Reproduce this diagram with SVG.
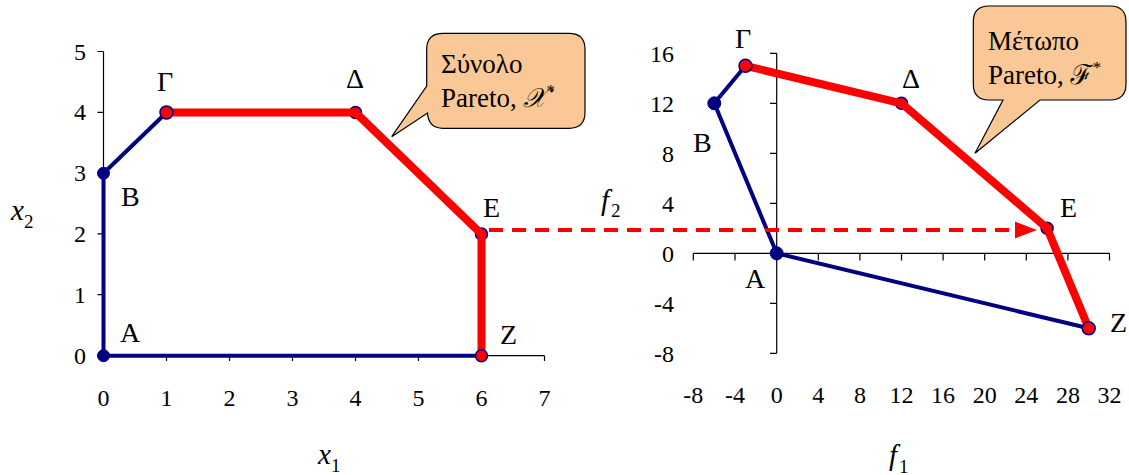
<svg xmlns="http://www.w3.org/2000/svg" width="1129" height="475" viewBox="0 0 1129 475" font-family="'Liberation Serif', Tinos, 'Times New Roman', 'DejaVu Serif', 'Noto Serif', serif">
<style>
  text { font-family: 'Liberation Serif', Tinos, 'Times New Roman', 'DejaVu Serif', 'Noto Serif', serif; fill: #000; }
  .tick { font-size: 24px; }
  .lbl { font-size: 28px; }
  .call { font-size: 27px; }
  .ax { font-size: 29px; font-style: italic; }
  .sub { font-size: 19px; font-style: normal; }
  .axis { stroke: #000; stroke-width: 1.2; fill: none; }
  .blue { stroke: #000080; stroke-width: 4; fill: none; stroke-linejoin: round; }
  .red { stroke: #FF0000; stroke-width: 8; fill: none; stroke-linejoin: round; }
  .dotb { fill: #000080; stroke: #000080; stroke-width: 1; }
  .dotr { fill: #FF0000; stroke: #000080; stroke-width: 1.5; }
  .bubble { fill: #FAC896; stroke: #000; stroke-width: 1.2; }
</style>

<!-- LEFT CHART: decision space -->
<g id="left-axes">
  <path class="axis" d="M103.5,51.5 V355.7 H544.5"/>
  <path class="axis" d="M97.5,51.5 H103.5 M97.5,112.3 H103.5 M97.5,173.1 H103.5 M97.5,233.9 H103.5 M97.5,294.7 H103.5 M97.5,355.7 H103.5"/>
  <path class="axis" d="M103.5,355.7 V361 M166.5,355.7 V361 M229.5,355.7 V361 M292.5,355.7 V361 M355.5,355.7 V361 M418.5,355.7 V361 M481.5,355.7 V361 M544.5,355.7 V361"/>
  <g class="tick" text-anchor="end">
    <text x="86" y="364">0</text>
    <text x="86" y="303">1</text>
    <text x="86" y="242">2</text>
    <text x="86" y="181">3</text>
    <text x="86" y="120">4</text>
    <text x="86" y="60">5</text>
  </g>
  <g class="tick" text-anchor="middle">
    <text x="103.5" y="406">0</text>
    <text x="166.5" y="406">1</text>
    <text x="229.5" y="406">2</text>
    <text x="292.5" y="406">3</text>
    <text x="355.5" y="406">4</text>
    <text x="418.5" y="406">5</text>
    <text x="481.5" y="406">6</text>
    <text x="544.5" y="406">7</text>
  </g>
  <text class="ax" x="318" y="464">x<tspan class="sub" dy="8">1</tspan></text>
  <text class="ax" x="11" y="220">x<tspan class="sub" dy="8">2</tspan></text>
</g>

<g id="left-series">
  <polyline class="blue" points="481.5,355.7 103.5,355.7 103.5,173.3 166.5,112.5"/>
  <circle class="dotr" cx="355.5" cy="112.5" r="6"/>
  <circle class="dotr" cx="481.5" cy="234.1" r="6"/>
  <polyline class="red" points="166.5,112.5 355.5,112.5 481.5,234.1 481.5,355.7"/>
</g>
<g id="left-A"><circle class="dotb" cx="103.5" cy="355.7" r="6"/><text class="lbl" x="120" y="342">A</text></g>
<g id="left-B"><circle class="dotb" cx="103.5" cy="173.3" r="6"/><text class="lbl" x="121" y="206">B</text></g>
<g id="left-G"><circle class="dotr" cx="166.5" cy="112.5" r="6.5"/><text class="lbl" x="157" y="91">Γ</text></g>
<g id="left-D"><text class="lbl" x="346" y="88">Δ</text></g>
<g id="left-E"><text class="lbl" x="483" y="216.5">E</text></g>
<g id="left-Z"><circle class="dotr" cx="481.5" cy="355.7" r="6"/><text class="lbl" x="500" y="344">Z</text></g>

<g id="callout-left">
  <path class="bubble" d="M443,33.3 H569 Q585,33.3 585,49.3 V112.3 Q585,128.3 569,128.3 H443 Q428.5,128.3 427.5,113 L391.7,136.7 L426.7,86 V49.3 Q426.7,33.3 443,33.3 Z"/>
  <text class="call" x="441" y="73">Σύνολο</text>
  <text class="call" x="441" y="107">Pareto, <tspan font-style="italic">𝒳</tspan><tspan font-size="17" dy="-11">*</tspan></text>
</g>

<!-- RIGHT CHART: objective space -->
<g id="right-axes">
  <path class="axis" d="M776.7,53.3 V353.3 M693.3,253.3 H1109.5"/>
  <path class="axis" d="M770,53.3 H776.7 M770,103.3 H776.7 M770,153.3 H776.7 M770,203.3 H776.7 M770,253.3 H776.7 M770,303.3 H776.7 M770,353.3 H776.7"/>
  <path class="axis" d="M693.3,253.3 V260.5 M735,253.3 V260.5 M776.7,253.3 V260.5 M818.3,253.3 V260.5 M859.9,253.3 V260.5 M901.5,253.3 V260.5 M943.1,253.3 V260.5 M984.7,253.3 V260.5 M1026.3,253.3 V260.5 M1067.9,253.3 V260.5 M1109.5,253.3 V260.5"/>
  <g class="tick" text-anchor="end">
    <text x="674" y="62">16</text>
    <text x="674" y="112">12</text>
    <text x="674" y="162">8</text>
    <text x="674" y="212">4</text>
    <text x="674" y="262">0</text>
    <text x="674" y="312">-4</text>
    <text x="674" y="362">-8</text>
  </g>
  <g class="tick" text-anchor="middle">
    <text x="693.3" y="403">-8</text>
    <text x="735" y="403">-4</text>
    <text x="776.7" y="403">0</text>
    <text x="818.3" y="403">4</text>
    <text x="859.9" y="403">8</text>
    <text x="901.5" y="403">12</text>
    <text x="943.1" y="403">16</text>
    <text x="984.7" y="403">20</text>
    <text x="1026.3" y="403">24</text>
    <text x="1067.9" y="403">28</text>
    <text x="1109.5" y="403">32</text>
  </g>
  <text class="ax" x="889" y="465">f<tspan class="sub" dx="2" dy="8">1</tspan></text>
  <text class="ax" x="601" y="210">f<tspan class="sub" dx="2" dy="7">2</tspan></text>
</g>

<g id="right-series">
  <polyline class="blue" points="1088.7,328.3 776.7,253.3 714.3,103.3 745.5,65.8"/>
  <circle class="dotr" cx="901.5" cy="103.3" r="6"/>
  <circle class="dotr" cx="1047.1" cy="228.3" r="6"/>
  <polyline class="red" points="745.5,65.8 901.5,103.3 1047.1,228.3 1088.7,328.3"/>
</g>
<g id="right-A"><circle class="dotb" cx="776.7" cy="253.3" r="6.5"/><text class="lbl" x="745" y="288">A</text></g>
<g id="right-B"><circle class="dotb" cx="714.3" cy="103.3" r="6.5"/><text class="lbl" x="693" y="152">B</text></g>
<g id="right-G"><circle class="dotr" cx="745.5" cy="65.8" r="6.5"/><text class="lbl" x="735" y="48">Γ</text></g>
<g id="right-D"><text class="lbl" x="902" y="88">Δ</text></g>
<g id="right-E"><text class="lbl" x="1060" y="217">E</text></g>
<g id="right-Z"><circle class="dotr" cx="1088.7" cy="328.3" r="6.5"/><text class="lbl" x="1110" y="332">Z</text></g>

<g id="callout-right">
  <path class="bubble" d="M989,6 H1110 Q1126,6 1126,22 V84 Q1126,100 1110,100 H1040 L975,153.3 L1003,100 H989 Q973.3,100 973.3,84 V22 Q973.3,6 989,6 Z"/>
  <text class="call" x="988" y="50">Μέτωπο</text>
  <text class="call" x="988" y="84">Pareto, <tspan font-style="italic">ℱ</tspan><tspan font-size="17" dy="-11">*</tspan></text>
</g>

<g id="connectors">
  <line x1="489" y1="230" x2="1016" y2="230" stroke="#FF0000" stroke-width="4" stroke-dasharray="14 9"/>
  <polygon points="1015,221.5 1037,230 1015,238.5" fill="#FF0000"/>
</g>
</svg>
